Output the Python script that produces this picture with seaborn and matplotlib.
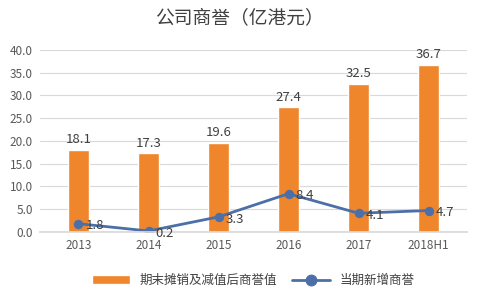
import matplotlib
matplotlib.use("Agg")
import matplotlib.pyplot as plt
import seaborn as sns
import pandas as pd
from matplotlib.ticker import FormatStrFormatter

categories = ["2013", "2014", "2015", "2016", "2017", "2018H1"]
goodwill = [18.1, 17.3, 19.6, 27.4, 32.5, 36.7]
new_goodwill = [1.8, 0.2, 3.3, 8.4, 4.1, 4.7]
bar_name = "期末摊销及减值后商誉值"
line_name = "当期新增商誉"
title = "公司商誉（亿港元）"

sns.set_theme(style="white")
plt.rcParams['font.family'] = ['Noto Sans CJK SC', 'DejaVu Sans']

df = pd.DataFrame({"cat": categories, "goodwill": goodwill, "new": new_goodwill})

fig = plt.figure(figsize=(4.79, 2.87), dpi=100)
ax = fig.add_axes([0.0835, 0.192, 0.8915, 0.634])

orange = "#F0862C"
blue = "#4C6FA8"

sns.barplot(data=df, x="cat", y="goodwill", color=orange, width=0.31, ax=ax,
            label=bar_name, saturation=1)
sns.lineplot(x=range(len(categories)), y=new_goodwill, color=blue, marker="o",
             markersize=6, linewidth=2, ax=ax, label=line_name,
             markeredgecolor=blue)

ax.set_ylim(0, 40)
ax.set_yticks([0, 5, 10, 15, 20, 25, 30, 35, 40])
ax.yaxis.set_major_formatter(FormatStrFormatter("%.1f"))
ax.grid(axis="y", color="#D9D9D9", linewidth=0.8)
ax.set_axisbelow(True)
for s in ["top", "right", "left"]:
    ax.spines[s].set_visible(False)
ax.spines["bottom"].set_color("#D9D9D9")
ax.set_xlabel("")
ax.set_ylabel("")
ax.tick_params(axis="both", labelsize=8.5, colors="#595959", length=0, pad=5)
ax.set_xlim(-0.55, 5.55)

for i, v in enumerate(goodwill):
    ax.text(i, v + 0.8, f"{v:.1f}", ha="center", va="bottom", fontsize=9.5, color="#404040")
for i, v in enumerate(new_goodwill):
    ax.text(i + 0.1, v - 0.5, f"{v:.1f}", ha="left", va="center", fontsize=9.5, color="#404040")

fig.text(0.5, 0.94, title, ha="center", va="center", fontsize=13.5, color="#404040")

handles, labels = ax.get_legend_handles_labels()
order = [labels.index(bar_name), labels.index(line_name)]
ax.legend([handles[k] for k in order], [labels[k] for k in order],
          loc="upper center", bbox_to_anchor=(0.5, -0.17), ncol=2,
          frameon=False, fontsize=9, handlelength=3.0, columnspacing=1.2,
          labelcolor="#404040", markerscale=1.3)

fig.savefig("out.png", dpi=100)
